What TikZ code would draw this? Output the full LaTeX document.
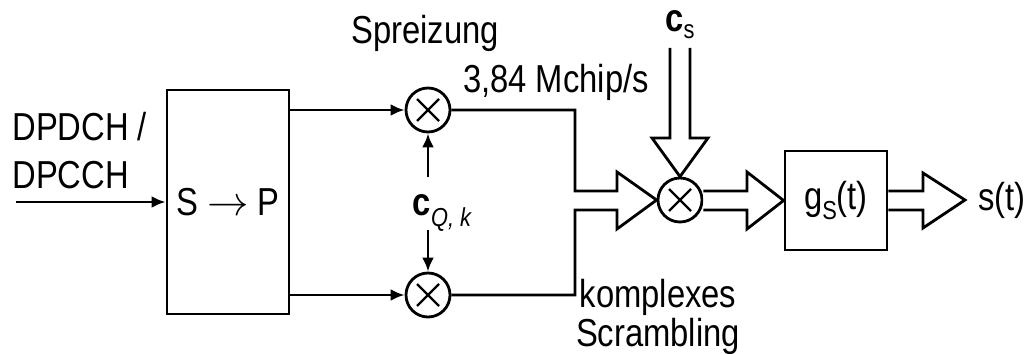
\documentclass[tikz,border=0pt]{standalone}
\usepackage{fontspec}
\setmainfont{Liberation Sans}[FakeStretch=0.84]
\usetikzlibrary{arrows.meta}
\newcommand{\subfs}{\fontsize{13}{15}\selectfont}
\tikzset{
  ln/.style={line width=1.4pt},
  arr/.style={ln,-{Latex[length=7pt,width=6pt]}},
  hollow/.style={ln, line join=miter, fill=white},
  mult/.style={circle, draw, ln, minimum size=22pt, inner sep=0pt,
    path picture={\draw[line width=1.2pt] (path picture bounding box.center) ++(-5.5pt,-5.5pt) -- ++(11pt,11pt) ++(-11pt,0) -- ++(11pt,-11pt);}},
  blk/.style={draw, ln, inner sep=0pt},
  lbl/.style={inner sep=0pt, font=\fontsize{19.5}{16}\selectfont}
}
\begin{document}
\begin{tikzpicture}[x=0.5pt,y=-0.5pt]
\useasboundingbox (0,0) rectangle (1031,353);
% blocks
\node[blk, minimum width=61pt, minimum height=112pt, lbl] (sp) at (228,202) {S $\rightarrow$ P};
\node[mult] (m1) at (428,110) {};
\node[mult] (m2) at (428,295) {};
\node[mult] (m3) at (680,200) {};
\node[blk, minimum width=51pt, minimum height=49.5pt, lbl] (g) at (836,200.5) {g\raisebox{-0.45ex}{\subfs S}(t)};
% labels
\node[lbl, anchor=west] (l1) at (12,127) {DPDCH /};
\node[lbl, anchor=west] (l2) at (12,175) {DPCCH};
\node[lbl] (spr) at (425,33) {Spreizung};
\node[lbl] (rate) at (556,82) {3,84 Mchip/s};
\node[lbl] (cs) at (680,25) {\bfseries c\raisebox{-0.35ex}{\mdseries\subfs s}};
\node[lbl] (cq) at (442,213) {\bfseries c\raisebox{-0.5ex}{\mdseries\itshape\subfs Q, k}};
\node[lbl, align=center] (ko) at (658,317) {komplexes\\Scrambling};
\node[lbl, anchor=west] (st) at (978,200) {s(t)};
% connectors
\coordinate (in) at (16,202);
\draw[arr] (in) -- (sp.west);
\draw[arr] (sp.east |- m1) -- (m1.west);
\draw[arr] (sp.east |- m2) -- (m2.west);
\coordinate (q1) at (428,177);
\coordinate (q2) at (428,230);
\draw[arr] (q1) -- (m1.south);
\draw[arr] (q2) -- (m2.north);
% hollow arrow into scrambler formed by I and Q paths
\draw[hollow, fill=none] (m1.east) -- (575,110) -- (575,191) -- (617,191) -- (617,172) -- (m3.west)
  -- (617,229) -- (617,210) -- (575,210) -- (575,295) -- (m2.east);
% c_s hollow arrow
\draw[hollow] (670,48) -- (670,138) -- (652,138) -- (m3.north) -- (708,138) -- (690,138) -- (690,48);
% scrambler -> g
\draw[hollow] (m3.east |- 0,191) -- (747,191) -- (747,172) -- (g.west) -- (747,229) -- (747,210) -- (m3.east |- 0,210);
% g -> s(t)
\draw[hollow] (g.east |- 0,191) -- (923,191) -- (923,173) -- (965,200) -- (923,228) -- (923,210) -- (g.east |- 0,210);
\end{tikzpicture}
\end{document}
